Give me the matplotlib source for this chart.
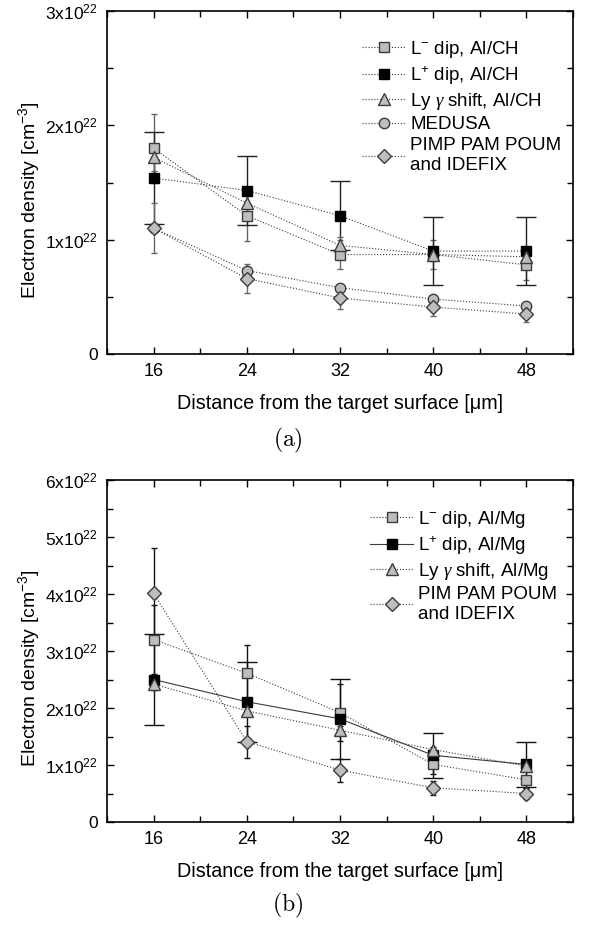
import matplotlib
matplotlib.use('Agg')
import matplotlib.pyplot as plt
from matplotlib.ticker import MultipleLocator, FuncFormatter

plt.rcParams['font.family'] = ['Liberation Sans', 'DejaVu Sans']
plt.rcParams['mathtext.fontset'] = 'custom'
plt.rcParams['mathtext.rm'] = 'Liberation Sans'
plt.rcParams['mathtext.it'] = 'Liberation Serif:italic'
plt.rcParams['mathtext.bf'] = 'Liberation Sans:bold'

# distance from target surface [um]
distance = [16, 24, 32, 40, 48]

# panel (a), electron density in units of 1e22 cm^-3
a_lminus = [1.80, 1.21, 0.87, 0.87, 0.78]
a_lminus_err = [0.30, 0.22, 0.13, 0.13, 0.13]
a_lplus = [1.54, 1.43, 1.21, 0.90, 0.90]
a_lplus_err = [0.40, 0.30, 0.30, 0.30, 0.30]
a_lygamma = [1.72, 1.32, 0.95, 0.87, 0.85]
a_lygamma_err = [0.12, 0.09, 0.07, 0.06, 0.06]
a_medusa = [1.10, 0.73, 0.58, 0.48, 0.42]
a_pimp = [1.10, 0.66, 0.49, 0.41, 0.35]
a_pimp_err = [0.22, 0.13, 0.10, 0.08, 0.07]

# panel (b)
b_lminus = [3.20, 2.61, 1.92, 1.01, 0.74]
b_lminus_err = [0.60, 0.50, 0.50, 0.16, 0.15]
b_lplus = [2.50, 2.11, 1.81, 1.17, 1.01]
b_lplus_err = [0.80, 0.70, 0.70, 0.40, 0.40]
b_lygamma = [2.42, 1.95, 1.61, 1.27, 0.98]
b_lygamma_err = [0.10, 0.08, 0.07, 0.05, 0.04]
b_pimp = [4.01, 1.41, 0.91, 0.60, 0.50]
b_pimp_err = [0.80, 0.28, 0.20, 0.12, 0.10]

labels_a = [r'L$\mathregular{^{-}}$ dip, Al/CH', r'L$\mathregular{^{+}}$ dip, Al/CH',
            r'Ly $\gamma$ shift, Al/CH', 'MEDUSA', 'PIMP PAM POUM\nand IDEFIX']
labels_b = [r'L$\mathregular{^{-}}$ dip, Al/Mg', r'L$\mathregular{^{+}}$ dip, Al/Mg',
            r'Ly $\gamma$ shift, Al/Mg', 'PIM PAM POUM\nand IDEFIX']

GRAY = '#bdbdbd'
EDGE = '#3c3c3c'
LINE = '#3a3a3a'
FS_TICK = 13
FS_LAB = 14.2
FS_LEG = 13.5

# marker styles per kind of series
sty = {
    'lminus': dict(marker='s', ms=7, mfc=GRAY, mec=EDGE),
    'lplus': dict(marker='s', ms=7.5, mfc='black', mec='black'),
    'lygamma': dict(marker='^', ms=9, mfc=GRAY, mec=EDGE),
    'medusa': dict(marker='o', ms=7.5, mfc=GRAY, mec=EDGE),
    'pimp': dict(marker='D', ms=7.5, mfc=GRAY, mec=EDGE),
}


def yfmt(v, pos):
    if abs(v) < 1e-9:
        return '0'
    return r'$\mathregular{%dx10^{22}}$' % round(v)


def setup_axes(ax, ymax):
    ax.set_xlim(12, 52)
    ax.set_ylim(0, ymax)
    ax.xaxis.set_major_locator(MultipleLocator(8))
    ax.xaxis.set_minor_locator(MultipleLocator(4))
    ax.yaxis.set_major_locator(MultipleLocator(1))
    ax.yaxis.set_minor_locator(MultipleLocator(0.5))
    ax.yaxis.set_major_formatter(FuncFormatter(yfmt))
    ax.tick_params(which='both', direction='in', top=True, right=True,
                   width=1.0, pad=6.5)
    ax.tick_params(axis='x', labelsize=FS_TICK)
    ax.tick_params(axis='y', labelsize=12.5)
    ax.tick_params(which='major', length=5)
    ax.tick_params(which='minor', length=4)
    for sp in ax.spines.values():
        sp.set_linewidth(1.2)
    ax.set_xlabel('Distance from the target surface [μm]', fontsize=FS_LAB)
    ax.set_ylabel(r'Electron density [cm$\mathregular{^{-3}}$]', fontsize=14)
    ax.yaxis.set_label_coords(-0.14, 0.45)
    ax.xaxis.set_label_coords(0.5, -0.118)


def draw_series(ax, y, err, kind, ls, label, ecolor, capsize):
    line, = ax.plot(distance, y, color=LINE, ls=ls, lw=0.8, label=label,
                    zorder=3, **sty[kind])
    if err is not None:
        ax.errorbar(distance, y, yerr=err, fmt='none', ecolor=ecolor,
                    elinewidth=1.0, capsize=capsize, capthick=1.0, zorder=2)
    return line


def add_legend(ax, handles, x0, y0):
    ax.legend(handles=handles, loc='upper left', bbox_to_anchor=(x0/589, 1-y0/925),
              bbox_transform=fig.transFigure, frameon=False, fontsize=FS_LEG,
              numpoints=1, handlelength=2.3, handletextpad=0.27,
              labelspacing=0.22, borderpad=0, borderaxespad=0)


fig = plt.figure(figsize=(5.89, 9.25), dpi=100)
ax_a = fig.add_axes([107/589, 1-354/925, 466/589, 343/925])
ax_b = fig.add_axes([107/589, 1-822/925, 466/589, 342/925])

# panel (a)
setup_axes(ax_a, 3)
h = []
h.append(draw_series(ax_a, a_lminus, a_lminus_err, 'lminus', ':', labels_a[0], '#666666', 2.5))
h.append(draw_series(ax_a, a_lplus, a_lplus_err, 'lplus', ':', labels_a[1], '#222222', 7.5))
h.append(draw_series(ax_a, a_lygamma, a_lygamma_err, 'lygamma', ':', labels_a[2], '#666666', 2.5))
h.append(draw_series(ax_a, a_medusa, None, 'medusa', ':', labels_a[3], '#666666', 2.5))
h.append(draw_series(ax_a, a_pimp, a_pimp_err, 'pimp', ':', labels_a[4], '#666666', 2.5))
add_legend(ax_a, h, 362, 39)

# panel (b)
setup_axes(ax_b, 6)
h = []
h.append(draw_series(ax_b, b_lminus, b_lminus_err, 'lminus', ':', labels_b[0], '#111111', 2.5))
h.append(draw_series(ax_b, b_lplus, b_lplus_err, 'lplus', '-', labels_b[1], '#111111', 7.5))
h.append(draw_series(ax_b, b_lygamma, b_lygamma_err, 'lygamma', ':', labels_b[2], '#111111', 2.5))
h.append(draw_series(ax_b, b_pimp, b_pimp_err, 'pimp', ':', labels_b[3], '#111111', 2.5))
add_legend(ax_b, h, 370, 509)

fig.text(288/589, 1-440/925, r'$\mathrm{(a)}$', ha='center', va='center',
         fontsize=17, math_fontfamily='cm')
fig.text(288/589, 1-905/925, r'$\mathrm{(b)}$', ha='center', va='center',
         fontsize=17, math_fontfamily='cm')

fig.savefig('out.png', dpi=100)
